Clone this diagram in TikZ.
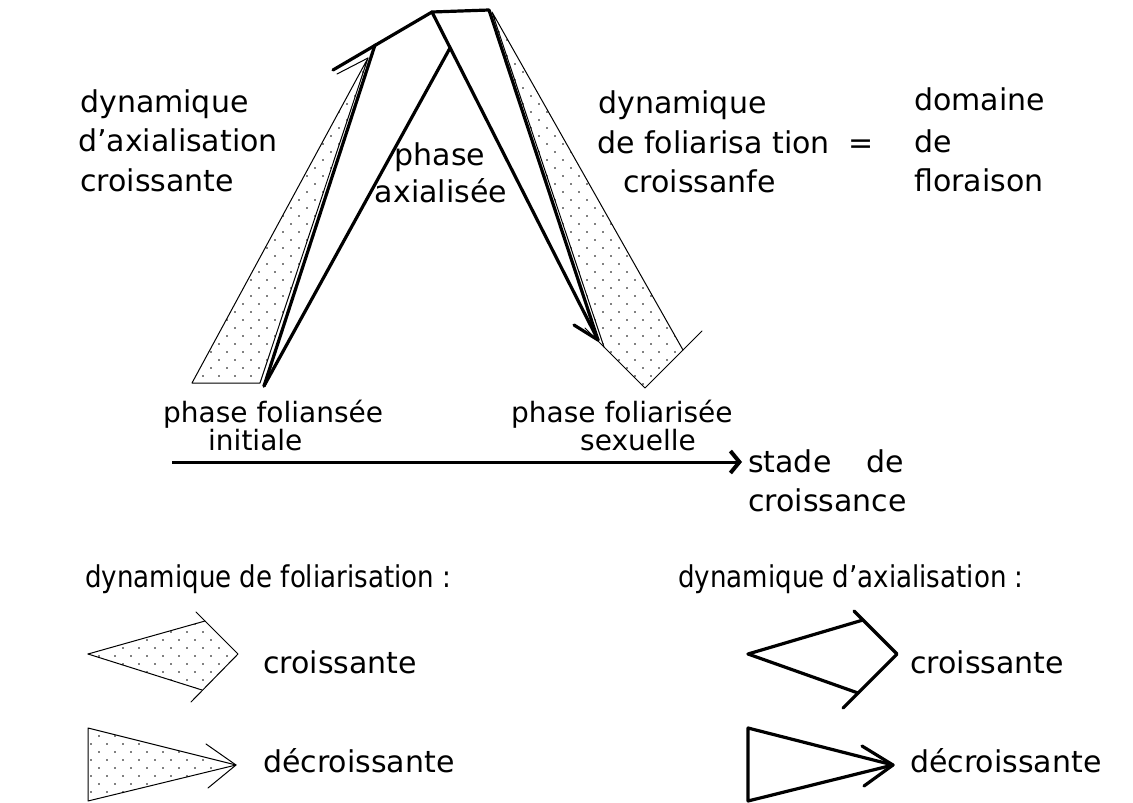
\documentclass[tikz,border=0pt]{standalone}
\usepackage{fontspec}
\setmainfont{DejaVu Sans}
\newfontfamily\narrowfont{DejaVu Sans}[FakeStretch=0.87,Ligatures=TeX]
\usetikzlibrary{patterns,arrows.meta}
\pgfdeclarepatternformonly{sparsedots}{\pgfqpoint{-1pt}{-1pt}}{\pgfqpoint{17pt}{17pt}}{\pgfqpoint{16pt}{16pt}}{%
  \pgfpathcircle{\pgfqpoint{3pt}{3pt}}{0.85pt}%
  \pgfpathcircle{\pgfqpoint{11pt}{11pt}}{0.85pt}%
  \pgfusepath{fill}}
\begin{document}
\begin{tikzpicture}[x=1pt,y=-1pt,
  txt/.style={font=\fontsize{30}{36}\selectfont, inner sep=0pt, anchor=base west},
  lbl/.style={font=\fontsize{28}{34}\selectfont, inner sep=0pt, anchor=base west},
  head/.style={font=\narrowfont\fontsize{30}{36}\selectfont, inner sep=0pt, anchor=base west},
  axial/.style={line width=3.2pt, line cap=round, line join=round},
  foliar/.style={line width=1pt, line cap=round, line join=round},
  dotted area/.style={pattern=sparsedots},
  axisarrow/.style={line width=3pt, -{Straight Barb[length=9pt,width=22pt,line width=4pt]}}]
\useasboundingbox (0,0) rectangle (1133,803);

% ---------- main figure coordinates ----------
\coordinate (BL) at (192,383);
\coordinate (BR) at (260,383);
\coordinate (DA) at (368,58);
\coordinate (DB) at (337,74);
\coordinate (A0) at (264,386);
\coordinate (L1) at (375,45);
\coordinate (C0) at (333,70);
\coordinate (T)  at (432,12);
\coordinate (U)  at (489,10);
\coordinate (R1) at (450,48);
\coordinate (B)  at (598,340);
\coordinate (Bb) at (574,325);
\coordinate (DU) at (492,12);
\coordinate (DL) at (604,347);
\coordinate (DR) at (683,350);
\coordinate (V)  at (645,388);
\coordinate (CL) at (585,328);
\coordinate (CR) at (702,331);

% left dotted (foliarisation decroissante, upward)
\fill[dotted area] (BL) -- (DA) -- (BR) -- cycle;
\draw[foliar] (BL) -- (DA) -- (BR) -- cycle;
\draw[foliar] (DB) -- (DA);

% right dotted (foliarisation croissante, downward)
\fill[dotted area] (DU) -- (DR) -- (V) -- (DL) -- cycle;
\draw[foliar] (DL) -- (DU) -- (DR);
\draw[foliar] (CL) -- (V) -- (CR);

% axialisation
\draw[axial] (A0) -- (L1);
\draw[axial] (C0) -- (T) -- (U) -- (B);
\draw[axial] (T) -- (B);
\draw[axial] (A0) -- (R1);
\draw[axial] (Bb) -- (B);

% texts of main figure
\node[txt] (l1) at (80,112) {dynamique};
\node[txt] (l2) at (78,151) {d'axialisation};
\node[txt] (l3) at (80,191) {croissante};
\node[txt,anchor=base] (c1) at (440,165) {phase};
\node[txt,anchor=base] (c2) at (441,202) {axialisée};
\node[txt] (r1) at (598,113) {dynamique};
\node[txt] (r2) at (597,153) {de foliarisa tion};
\node[txt] (eq) at (848,153) {=};
\node[txt] (r3) at (623,192) {croissanfe};
\node[txt] (d1) at (914,110) {domaine};
\node[txt] (d2) at (914,152) {de};
\node[txt] (d3) at (914,191) {floraison};

\node[lbl] (p1) at (163,422) {phase foliansée};
\node[lbl] (p2) at (208,450) {initiale};
\node[lbl] (p3) at (511,422) {phase foliarisée};
\node[lbl] (p4) at (580,450) {sexuelle};

% growth axis
\coordinate (ax0) at (172,462);
\coordinate (ax1) at (742,462);
\draw[axisarrow] (ax0) -- (ax1);
\node[txt] (s1) at (748,472) {stade};
\node[txt] (s2) at (866,472) {de};
\node[txt] (s3) at (748,511) {croissance};

% ---------- legend ----------
\node[head] (h1) at (85,587) {dynamique de foliarisation :};
\node[head] (h2) at (678,587) {dynamique d'axialisation :};

% foliarisation croissante
\coordinate (P)  at (88,654);
\coordinate (Q)  at (238,654);
\coordinate (UJ) at (205,621);
\coordinate (UA) at (196,612);
\coordinate (LJ) at (202,690);
\coordinate (LA) at (191,702);
\fill[dotted area] (P) -- (UJ) -- (Q) -- (LJ) -- cycle;
\draw[foliar] (P) -- (UJ);
\draw[foliar] (P) -- (LJ);
\draw[foliar] (UA) -- (Q) -- (LA);
\node[txt] (t1) at (263,673) {croissante};

% foliarisation decroissante
\coordinate (E0) at (88,728);
\coordinate (E1) at (88,801);
\coordinate (E2) at (236,765);
\coordinate (E3) at (206,744);
\coordinate (E4) at (208,788);
\fill[dotted area] (E0) -- (E2) -- (E1) -- cycle;
\draw[foliar] (E2) -- (E0) -- (E1) -- (E2);
\draw[foliar] (E3) -- (E2) -- (E4);
\node[txt] (t2) at (263,772) {décroissante};

% axialisation croissante
\coordinate (P2)  at (748,654);
\coordinate (Q2)  at (897,654);
\coordinate (UJ2) at (863,620);
\coordinate (UA2) at (854,611);
\coordinate (LJ2) at (858,693);
\coordinate (LA2) at (843,708);
\draw[axial] (P2) -- (UJ2);
\draw[axial] (P2) -- (LJ2);
\draw[axial] (UA2) -- (Q2) -- (LA2);
\node[txt] (t3) at (910,673) {croissante};

% axialisation decroissante
\coordinate (F0) at (748,728);
\coordinate (F1) at (748,801);
\coordinate (F2) at (893,765);
\coordinate (F3) at (862,746);
\coordinate (F4) at (864,786);
\draw[axial] (F2) -- (F0) -- (F1) -- (F2);
\draw[axial] (F3) -- (F2) -- (F4);
\node[txt] (t4) at (910,772) {décroissante};
\end{tikzpicture}
\end{document}
